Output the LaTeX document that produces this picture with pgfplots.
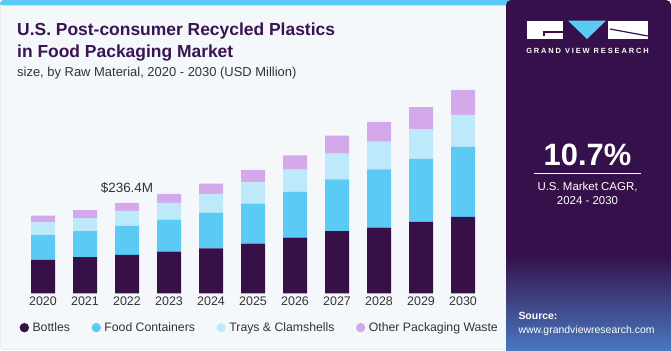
\documentclass[border=0pt]{standalone}
\usepackage{pgfplots}
\pgfplotsset{compat=1.18}
\usepackage{fontspec}
\setmainfont{Liberation Sans}
\newfontfamily\logofont[LetterSpace=25]{Liberation Sans}
\definecolor{cbottles}{RGB}{55,16,72}
\definecolor{ccont}{RGB}{91,202,245}
\definecolor{ctrays}{RGB}{189,233,250}
\definecolor{cother}{RGB}{212,169,236}
\definecolor{panelbg}{RGB}{244,248,251}
\definecolor{rightbg}{RGB}{54,16,74}
\definecolor{titlecol}{RGB}{58,19,82}
\definecolor{labelcol}{RGB}{51,51,51}
\definecolor{topblue}{RGB}{91,200,245}
\definecolor{srcblue}{RGB}{72,120,190}
\pgfplotstableread{
x bottles cont trays other
0 87.2 65.4 33.2 17.5
1 95.0 68.1 34.0 20.9
2 100.3 75.9 39.3 20.9
3 108.9 83.8 43.7 23.6
4 117.8 93.2 49.0 27.0
5 129.9 104.7 56.0 32.2
6 145.6 119.6 58.4 37.7
7 163.1 135.4 67.0 47.1
8 171.7 152.9 72.3 51.6
9 186.7 164.9 78.5 57.6
10 199.8 183.3 83.8 65.5
}\datatable
\begin{document}
\begin{tikzpicture}[x=1bp,y=1bp]
\fill[white] (0,0) rectangle (671,350);
\filldraw[fill=panelbg, draw=gray!35, rounded corners=4bp] (0.5,0.5) rectangle (512,349.5);
\fill[topblue, rounded corners=3bp] (0.5,344.5) rectangle (512,350);
\fill[topblue] (0.5,344.5) rectangle (512,347);
% right panel
\fill[rightbg, rounded corners=5bp] (506,0) rectangle (671,350);
\shade[top color=rightbg, bottom color=srcblue] (506,0) rectangle (671,95);
\fill[rightbg] (506,95) rectangle (671,100);
% title
\node[anchor=base west, inner sep=0, text=titlecol, font=\bfseries\fontsize{17.5}{21}\selectfont] at (17,315) {U.S. Post-consumer Recycled Plastics};
\node[anchor=base west, inner sep=0, text=titlecol, font=\bfseries\fontsize{17.5}{21}\selectfont] at (17,292.5) {in Food Packaging Market};
\node[anchor=base west, inner sep=0, text=labelcol, font=\fontsize{13}{15}\selectfont] at (17,274) {size, by Raw Material, 2020 - 2030 (USD Million)};
% logo
\fill[white] (527.3,311) rectangle (563.3,329.3);
\fill[rightbg] (543.3,317.5) rectangle (563.3,319);
\fill[rightbg] (543.3,314.5) rectangle (544.8,319);
\fill[ccont] (568,329.3) -- (606,329.3) -- (587,311) -- cycle;
\fill[white] (608,311) rectangle (647.7,329.3);
\draw[rightbg, line width=1.2bp] (610,321) -- (647.7,314);
\node[anchor=base, inner sep=0, text=white, font=\logofont\bfseries\fontsize{7.5}{9}\selectfont] at (587.5,296.7) {GRAND VIEW RESEARCH};
% CAGR
\node[anchor=base, inner sep=0, text=white, font=\bfseries\fontsize{31}{35}\selectfont] at (587.5,184.3) {10.7\%};
\draw[white, line width=0.8bp] (534.3,176.7) -- (640.7,176.7);
\node[anchor=base, inner sep=0, text=white, font=\fontsize{11.5}{14}\selectfont] at (587.5,160) {U.S. Market CAGR,};
\node[anchor=base, inner sep=0, text=white, font=\fontsize{11.5}{14}\selectfont] at (587.5,146) {2024 - 2030};
\node[anchor=base west, inner sep=0, text=white, font=\bfseries\fontsize{10.5}{12}\selectfont] at (518.3,30.7) {Source:};
\node[anchor=base west, inner sep=0, text=white, font=\fontsize{10.5}{12}\selectfont] at (518.3,16.7) {www.grandviewresearch.com};
\begin{axis}[
  at={(22bp,56.7bp)}, anchor=south west,
  scale only axis, width=462bp, height=213.3bp,
  xmin=-0.5, xmax=10.5, ymin=0, ymax=558.4,
  ybar stacked, bar width=24bp,
  axis line style={draw=none}, tick style={draw=none},
  ytick=\empty,
  xtick=data,
  xticklabels={2020,2021,2022,2023,2024,2025,2026,2027,2028,2029,2030},
  xticklabel style={font=\fontsize{12.5}{14}\selectfont, text=labelcol, yshift=0bp},
  legend style={at={(-0.0055,-0.161)}, anchor=west, draw=none, fill=none, inner sep=0pt,
    font=\fontsize{12.3}{14}\selectfont, text=labelcol, legend columns=4,
    /tikz/every odd column/.append style={column sep=1.5bp},
    /tikz/every even column/.append style={column sep=19.5bp}},
  legend cell align=left,
]
\addplot+[fill=cbottles, draw=none, legend image code/.code={\fill[cbottles] (4.5bp,0bp) circle (4.7bp);}] table[x=x,y=bottles] {\datatable};
\addlegendentry{Bottles}
\addplot+[fill=ccont, draw=none, legend image code/.code={\fill[ccont] (4.5bp,0bp) circle (4.7bp);}] table[x=x,y=cont] {\datatable};
\addlegendentry{Food Containers}
\addplot+[fill=ctrays, draw=none, legend image code/.code={\fill[ctrays] (4.5bp,0bp) circle (4.7bp);}] table[x=x,y=trays] {\datatable};
\addlegendentry{Trays \& Clamshells}
\addplot+[fill=cother, draw=none, legend image code/.code={\fill[cother] (4.5bp,0bp) circle (4.7bp);}] table[x=x,y=other] {\datatable};
\addlegendentry{Other Packaging Waste}
\node[anchor=base, inner sep=0, text=labelcol, font=\fontsize{13.5}{16}\selectfont, yshift=10bp] at (axis cs:2,236.4) {\$236.4M};
\end{axis}
\end{tikzpicture}
\end{document}
